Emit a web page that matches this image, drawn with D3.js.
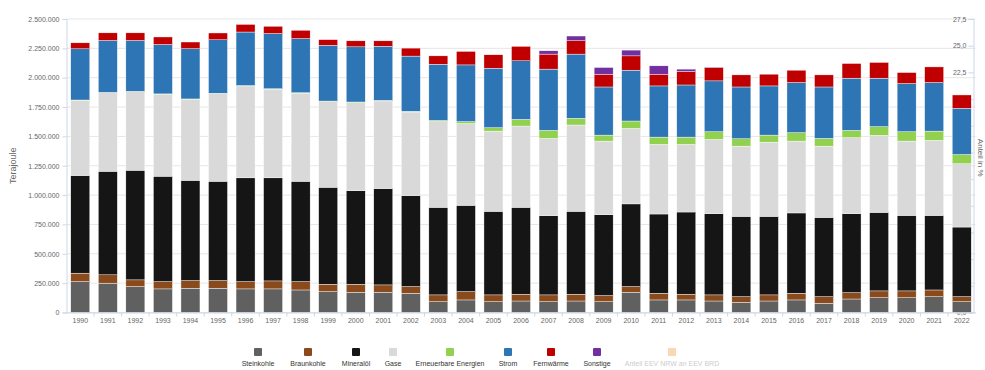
<!DOCTYPE html>
<html lang="de">
<head>
    <meta charset="UTF-8">
    <title>Endenergieverbrauch NRW</title>
    <script src="https://cdn.jsdelivr.net/npm/d3@7/dist/d3.min.js"></script>
    <style>
        body { margin: 0; background: #fff; }
    </style>
</head>
<body>
    <svg width="985" height="370" id="mainsvg" font-family="'Liberation Sans', Arial, sans-serif"></svg>
    <script>
        // Jahre
        const years = d3.range(1990, 2023).map(String)

        // Werte in 1.000 Terajoule
        const steinkohle = [263, 250, 221, 201, 207, 207, 201, 201, 192, 178, 173, 173, 164, 92, 107, 92, 98, 92, 98, 92, 173, 107, 107, 98, 87, 98, 107, 79, 115, 126, 126, 135, 92]
        const braunkohle = [72, 71, 57, 62, 65, 65, 62, 68, 71, 63, 68, 62, 57, 58, 71, 58, 58, 58, 58, 52, 48, 57, 49, 52, 48, 52, 57, 56, 54, 58, 58, 57, 43]
        const mineraloel = [832, 882, 934, 898, 854, 846, 884, 878, 855, 826, 797, 821, 775, 746, 735, 712, 740, 675, 706, 689, 704, 675, 700, 692, 684, 669, 684, 675, 673, 669, 643, 635, 593]
        const gase = [641, 670, 670, 698, 690, 747, 783, 755, 750, 730, 750, 746, 712, 730, 696, 683, 692, 658, 735, 627, 643, 593, 576, 632, 598, 632, 612, 607, 647, 656, 633, 639, 539]
        const erneuerbare = [2, 2, 2, 3, 3, 3, 3, 4, 4, 4, 5, 5, 6, 10, 17, 29, 57, 68, 57, 51, 63, 62, 62, 66, 63, 60, 72, 66, 62, 74, 80, 79, 79]
        const strom = [436, 442, 433, 421, 428, 455, 456, 470, 461, 475, 470, 461, 470, 479, 483, 507, 499, 522, 547, 410, 433, 436, 444, 433, 441, 419, 427, 438, 445, 413, 410, 414, 393]
        const fernwaerme = [51, 65, 65, 64, 57, 58, 65, 62, 71, 48, 51, 46, 68, 71, 115, 114, 123, 128, 114, 109, 122, 100, 115, 114, 103, 100, 105, 103, 125, 134, 94, 133, 114]
        const sonstige = [0, 0, 0, 0, 0, 0, 0, 0, 0, 0, 0, 0, 0, 0, 0, 0, 0, 28, 40, 57, 49, 71, 20, 4, 0, 0, 0, 0, 0, 0, 0, 0, 0]

        const seriesNames = ['Steinkohle', 'Braunkohle', 'Mineralöl', 'Gase', 'Erneuerbare Energien', 'Strom', 'Fernwärme', 'Sonstige']
        const seriesValues = [steinkohle, braunkohle, mineraloel, gase, erneuerbare, strom, fernwaerme, sonstige]
        const colors = ['#606060', '#8a4a1c', '#151515', '#d9d9d9', '#92d050', '#2e75b6', '#c00000', '#7030a0']

        const leftTicks = d3.range(0, 2500001, 250000)
        const rightTicks = d3.range(0, 27.51, 2.5)

        const svg = d3.select('#mainsvg')
        const margin = {top: 19, right: 9.5, bottom: 57.5, left: 66.5}
        const width = +svg.attr('width')
        const height = +svg.attr('height')
        const innerWidth = width - margin.left - margin.right
        const innerHeight = height - margin.top - margin.bottom
        const fontFam = "'Liberation Sans', Arial, sans-serif"

        const g = svg.append('g').attr('transform', `translate(${margin.left},${margin.top})`)

        const rows = years.map((y, i) => {
            const row = {year: y}
            seriesNames.forEach((s, j) => { row[s] = seriesValues[j][i] * 1000 })
            return row
        })

        const xScale = d3.scaleBand().domain(years).range([0, innerWidth])
            .paddingInner(0.31).paddingOuter(0.155)
        const yScale = d3.scaleLinear().domain([0, 2500000]).range([innerHeight, 0])
        const yRight = d3.scaleLinear().domain([0, 27.5]).range([innerHeight, 0])

        const fmtLeft = d3.formatLocale({decimal: ',', thousands: '.', grouping: [3], currency: ['', '€']}).format(',d')
        const fmtRight = d => d3.format('.1f')(d).replace('.', ',')

        // Gitter
        g.append('g').selectAll('line').data(leftTicks).join('line')
            .attr('x1', 0).attr('x2', innerWidth)
            .attr('y1', d => yScale(d)).attr('y2', d => yScale(d))
            .attr('stroke', '#e6e6e6').attr('stroke-width', 1)

        const styleAxis = function(sel){
            sel.attr('font-family', fontFam).attr('font-size', 7)
            sel.select('.domain').attr('stroke', '#ccd6eb')
            sel.selectAll('.tick line').attr('stroke', '#ccd6eb')
            sel.selectAll('.tick text').attr('fill', '#666')
        }

        // linke Achse
        const yAxis = d3.axisLeft(yScale).tickValues(leftTicks).tickFormat(fmtLeft).tickSize(4).tickPadding(3)
        g.append('g').call(yAxis).call(styleAxis)

        // rechte Achse (Beschriftung innen, hinter den Balken)
        const yAxisR = d3.axisLeft(yRight).tickValues(rightTicks).tickFormat(fmtRight).tickSize(5).tickPadding(2)
        g.append('g').attr('transform', `translate(${innerWidth - 2},0)`).call(yAxisR).call(styleAxis)

        // Balken
        const stacked = d3.stack().keys(seriesNames)(rows)
        g.append('g').selectAll('g').data(stacked).join('g')
            .attr('fill', (d, i) => colors[i])
            .selectAll('rect').data(d => d).join('rect')
            .attr('x', d => xScale(d.data.year))
            .attr('width', xScale.bandwidth())
            .attr('y', d => yScale(d[1]))
            .attr('height', d => Math.max(0, yScale(d[0]) - yScale(d[1])))
            .attr('stroke', '#ffffff').attr('stroke-width', 0.4)

        // x-Achse
        const xAxis = d3.axisBottom(xScale).tickSize(0).tickPadding(6)
        const xAxisGroup = g.append('g').attr('transform', `translate(0,${innerHeight})`).call(xAxis).call(styleAxis)
        xAxisGroup.append('g').selectAll('line').data(years.slice(1)).join('line')
            .attr('x1', d => xScale(d) - xScale.step() * xScale.paddingInner() / 2)
            .attr('x2', d => xScale(d) - xScale.step() * xScale.paddingInner() / 2)
            .attr('y1', 0).attr('y2', 4).attr('stroke', '#ccd6eb')

        // Achsentitel
        svg.append('text').attr('transform', `translate(16,${margin.top + innerHeight / 2}) rotate(-90)`)
            .attr('text-anchor', 'middle').attr('fill', '#666').attr('font-size', 9).text('Terajoule')
        svg.append('text').attr('transform', `translate(978,${margin.top + innerHeight / 2 - 8}) rotate(90)`)
            .attr('text-anchor', 'middle').attr('fill', '#666').attr('font-size', 8).text('Anteil in %')

        // Legende
        const legendItems = seriesNames.map((s, i) => ({name: s, color: colors[i], active: true}))
        legendItems.push({name: 'Anteil EEV NRW an EEV BRD', color: '#fcd5b5', active: false})
        const legendX = [258, 308, 356, 393, 450, 508, 551, 597, 672]
        const legend = svg.append('g').selectAll('g').data(legendItems).join('g')
            .attr('transform', (d, i) => `translate(${legendX[i]},0)`)
        legend.append('rect').attr('x', -4).attr('y', 348).attr('width', 8).attr('height', 8)
            .attr('rx', 1).attr('fill', d => d.color)
        legend.append('text').attr('y', 366).attr('text-anchor', 'middle')
            .attr('font-size', 7).attr('fill', d => d.active ? '#333' : '#cccccc')
            .text(d => d.name)
    </script>
</body>
</html>
